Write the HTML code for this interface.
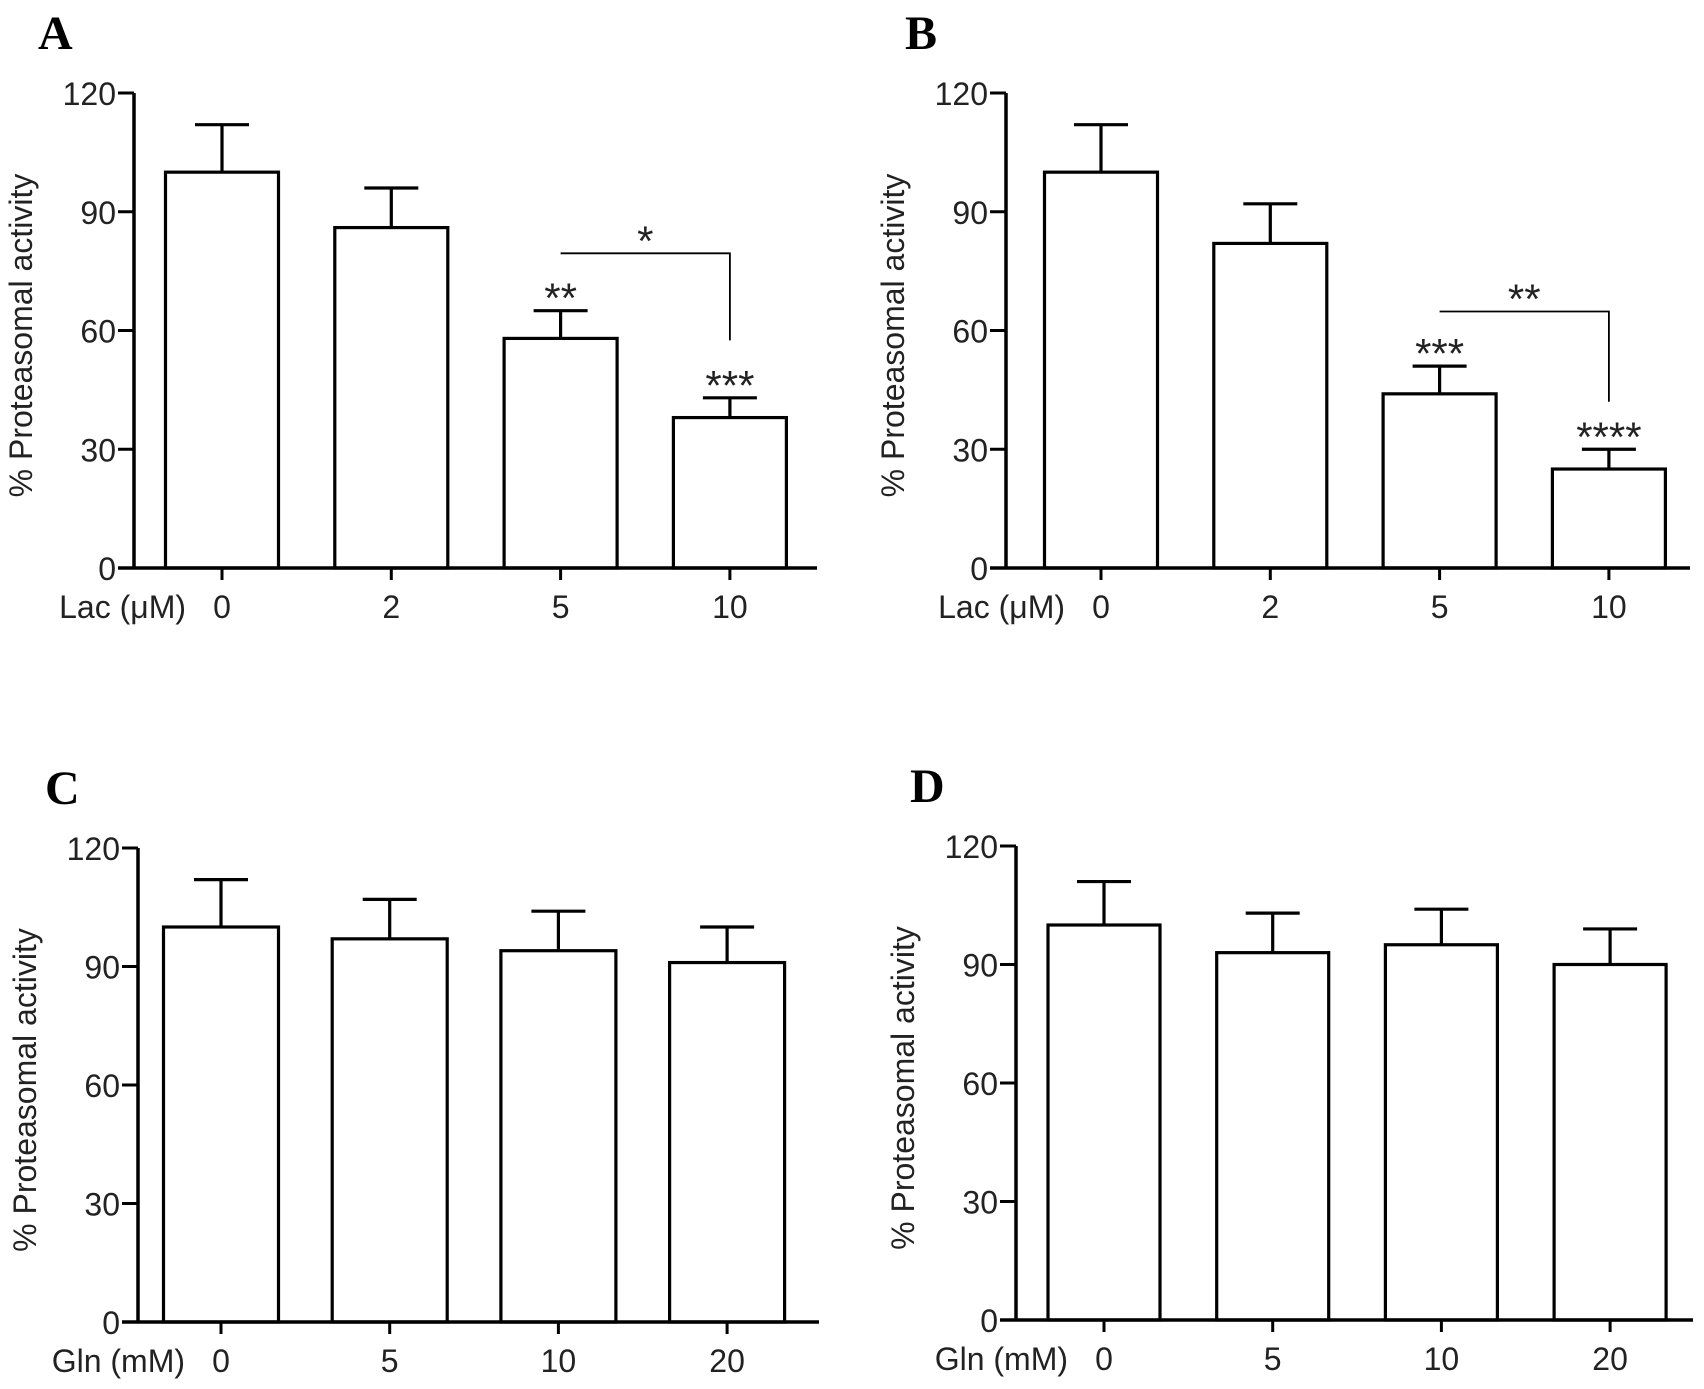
<!DOCTYPE html>
<html><head><meta charset="utf-8"><style>
html,body{margin:0;padding:0;background:#fff;}
svg{display:block;}
text{font-family:"Liberation Sans",Arial,sans-serif;fill:#222;}
</style></head>
<body>
<svg id="fig" width="1704" height="1389" viewBox="0 0 1704 1389" xmlns="http://www.w3.org/2000/svg"></svg>
<script>
const yTicks = [0, 30, 60, 90, 120];
const catsLac = ["0", "2", "5", "10"];
const catsGln = ["0", "5", "10", "20"];
const valsA = [100, 86, 58, 38];
const errA = [12, 10, 7, 5];
const valsB = [100, 82, 44, 25];
const errB = [12, 10, 7, 5];
const valsC = [100, 97, 94, 91];
const errC = [12, 10, 10, 9];
const valsD = [100, 93, 95, 90];
const errD = [11, 10, 9, 9];
const starsA = ["", "", "**", "***"];
const starsB = ["", "", "***", "****"];
// bracket: [fromIndex, toIndex, barY value, drop-to value, label]
const bracketA = [2, 3, 79.5, 57.5, "*"];
const bracketB = [2, 3, 64.8, 42, "**"];

const NS = "http://www.w3.org/2000/svg";
const svg = document.getElementById('fig');
function mk(tag, attrs, parent) {
  const e = document.createElementNS(NS, tag);
  for (const k in attrs) e.setAttribute(k, attrs[k]);
  (parent || svg).appendChild(e);
  return e;
}

const panels = [
  {id:'a', letter:'A', ax:134, top:93, bot:568, xend:817, c0:222, step:169.3, bw:113, cats:catsLac, vals:valsA, err:errA, stars:starsA, br:bracketA, xlab:'Lac (\u03bcM)', lx:38},
  {id:'b', letter:'B', ax:1006, top:93, bot:568, xend:1690, c0:1101, step:169.3, bw:113, cats:catsLac, vals:valsB, err:errB, stars:starsB, br:bracketB, xlab:'Lac (\u03bcM)', lx:905},
  {id:'c', letter:'C', ax:138, top:848, bot:1322, xend:819, c0:221, step:168.7, bw:115, cats:catsGln, vals:valsC, err:errC, stars:null, br:null, xlab:'Gln (mM)', lx:45},
  {id:'d', letter:'D', ax:1016, top:846, bot:1320, xend:1693, c0:1104, step:168.7, bw:112, cats:catsGln, vals:valsD, err:errD, stars:null, br:null, xlab:'Gln (mM)', lx:910}
];

panels.forEach(p => {
  const g = mk('g', {});
  
  
  const y = v => p.bot - (v / 120) * (p.bot - p.top);
  const x = i => p.c0 + i * p.step;

  const L = mk('text', {x: p.lx, y: p.top - 44, 'font-size': 48, 'font-weight': 'bold', style: 'font-family:"Liberation Serif",serif;fill:#000'}, g);
  L.textContent = p.letter;
  
  

  p.vals.forEach((v, i) => {
    const e = p.err[i];
    const eb = mk('g', {stroke:'#000', 'stroke-width':3.2}, g);
    
    
    mk('line', {x1:x(i), x2:x(i), y1:y(v), y2:y(v+e)}, eb);
    mk('line', {x1:x(i)-27, x2:x(i)+27, y1:y(v+e), y2:y(v+e)}, eb);
    const r = mk('rect', {x:x(i)-p.bw/2, y:y(v), width:p.bw, height:p.bot-y(v), fill:'#fff', stroke:'#000', 'stroke-width':3.2}, g);
    
    
    if (p.stars && p.stars[i]) {
      const s = mk('text', {x:x(i), y:y(v+e)+2, 'text-anchor':'middle', 'font-size':42}, g);
      s.textContent = p.stars[i];
      
      
    }
  });

  if (p.br) {
    const [a, b, vy, vd, lab] = p.br;
    const bg = mk('g', {}, g);
    
    
    mk('polyline', {points: `${x(a)},${y(vy)} ${x(b)},${y(vy)} ${x(b)},${y(vd)}`, fill:'none', stroke:'#000', 'stroke-width':1.8}, bg);
    const t = mk('text', {x:(x(a)+x(b))/2, y:y(vy)+2, 'text-anchor':'middle', 'font-size':42}, bg);
    t.textContent = lab;
  }

  const ya = mk('line', {x1:p.ax, x2:p.ax, y1:p.top, y2:p.bot, stroke:'#000', 'stroke-width':3.5}, g);
  
  
  const xa = mk('line', {x1:p.ax-16, x2:p.xend, y1:p.bot, y2:p.bot, stroke:'#000', 'stroke-width':3.5}, g);
  
  

  yTicks.forEach(t => {
    mk('line', {x1:p.ax-16, x2:p.ax, y1:y(t), y2:y(t), stroke:'#000', 'stroke-width':3}, g);
    const tl = mk('text', {x:p.ax-18, y:y(t)+12, 'text-anchor':'end', 'font-size':32}, g);
    tl.textContent = t;
    
    
  });
  p.cats.forEach((c, i) => {
    mk('line', {x1:x(i), x2:x(i), y1:p.bot, y2:p.bot+12, stroke:'#000', 'stroke-width':3}, g);
    const tl = mk('text', {x:x(i), y:p.bot+50, 'text-anchor':'middle', 'font-size':32}, g);
    tl.textContent = c;
    
    
  });
  const xl = mk('text', {x:p.c0-36, y:p.bot+50, 'text-anchor':'end', 'font-size':32}, g);
  xl.textContent = p.xlab;
  
  
  const cy = (p.top + p.bot) / 2 + 5;
  const yl = mk('text', {x:0, y:0, 'text-anchor':'middle', 'font-size':32, transform:`translate(${p.ax-102},${cy}) rotate(-90)`}, g);
  yl.textContent = '% Proteasomal activity';
  
  
});
</script>
</body></html>
